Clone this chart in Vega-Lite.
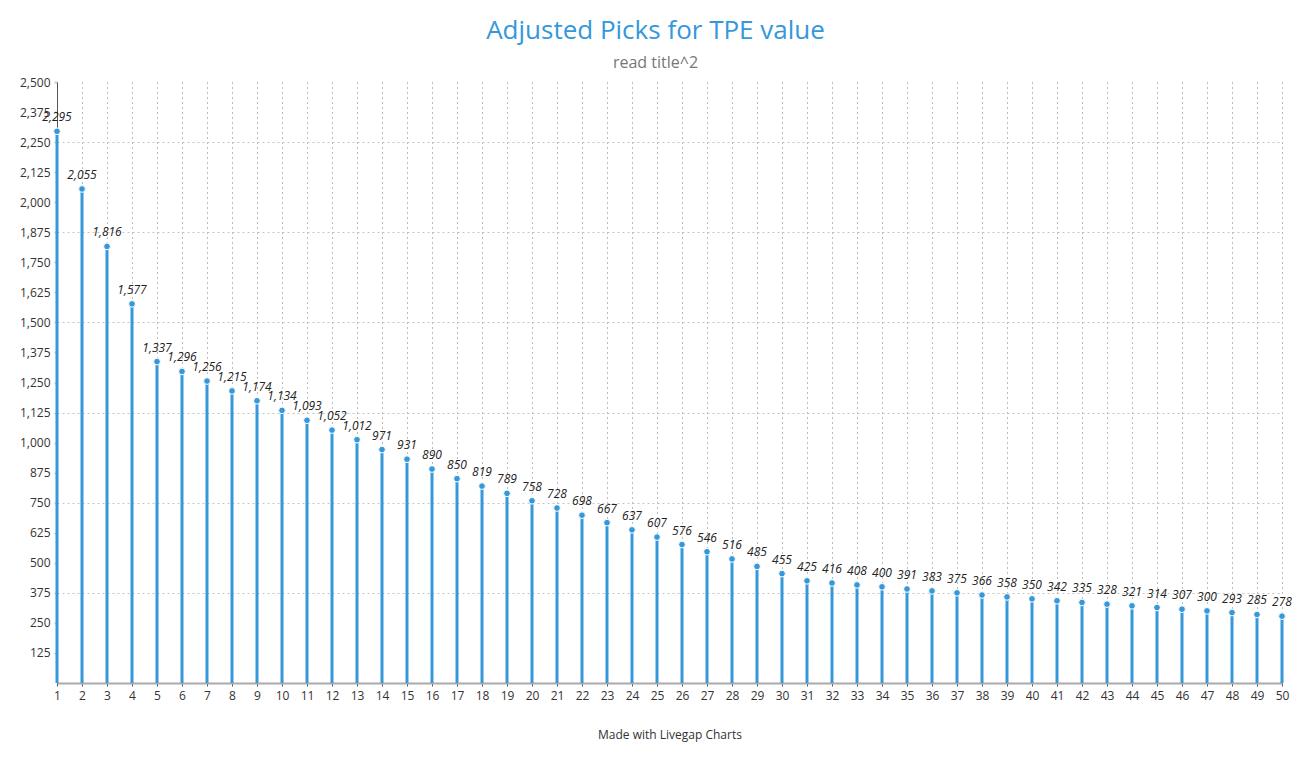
{
  "$schema": "https://vega.github.io/schema/vega-lite/v6.json",
  "width": 1225,
  "height": 601,
  "autosize": {"type": "none"},
  "padding": {"left": 57, "top": 82, "right": 28, "bottom": 77},
  "background": "white",
  "title": {
    "text": "Adjusted Picks for TPE value",
    "subtitle": "read title^2",
    "anchor": "middle",
    "dx": -14,
    "font": "Open Sans",
    "fontSize": 26,
    "fontWeight": "normal",
    "color": "#3498db",
    "subtitleFont": "Open Sans",
    "subtitleFontSize": 16,
    "subtitleColor": "#777777",
    "subtitlePadding": 11,
    "offset": 5
  },
  "config": {
    "view": {"stroke": null},
    "axis": {"labelFont": "Open Sans", "labelFontSize": 12, "labelColor": "#333333", "titleFont": "Open Sans", "titleFontSize": 12, "titleColor": "#333333", "titleFontWeight": "normal"}
  },
  "data": {
    "values": [
      {"pick": 1, "value": 2295}, {"pick": 2, "value": 2055}, {"pick": 3, "value": 1816}, {"pick": 4, "value": 1577}, {"pick": 5, "value": 1337},
      {"pick": 6, "value": 1296}, {"pick": 7, "value": 1256}, {"pick": 8, "value": 1215}, {"pick": 9, "value": 1174}, {"pick": 10, "value": 1134},
      {"pick": 11, "value": 1093}, {"pick": 12, "value": 1052}, {"pick": 13, "value": 1012}, {"pick": 14, "value": 971}, {"pick": 15, "value": 931},
      {"pick": 16, "value": 890}, {"pick": 17, "value": 850}, {"pick": 18, "value": 819}, {"pick": 19, "value": 789}, {"pick": 20, "value": 758},
      {"pick": 21, "value": 728}, {"pick": 22, "value": 698}, {"pick": 23, "value": 667}, {"pick": 24, "value": 637}, {"pick": 25, "value": 607},
      {"pick": 26, "value": 576}, {"pick": 27, "value": 546}, {"pick": 28, "value": 516}, {"pick": 29, "value": 485}, {"pick": 30, "value": 455},
      {"pick": 31, "value": 425}, {"pick": 32, "value": 416}, {"pick": 33, "value": 408}, {"pick": 34, "value": 400}, {"pick": 35, "value": 391},
      {"pick": 36, "value": 383}, {"pick": 37, "value": 375}, {"pick": 38, "value": 366}, {"pick": 39, "value": 358}, {"pick": 40, "value": 350},
      {"pick": 41, "value": 342}, {"pick": 42, "value": 335}, {"pick": 43, "value": 328}, {"pick": 44, "value": 321}, {"pick": 45, "value": 314},
      {"pick": 46, "value": 307}, {"pick": 47, "value": 300}, {"pick": 48, "value": 293}, {"pick": 49, "value": 285}, {"pick": 50, "value": 278}
    ]
  },
  "encoding": {
    "x": {
      "field": "pick",
      "type": "ordinal",
      "scale": {"type": "point", "padding": 0},
      "axis": {
        "labelAngle": 0,
        "title": "Made with Livegap Charts",
        "titlePadding": 28,
        "domainColor": "#aaaaaa",
        "domainWidth": 2,
        "tickColor": "#555555",
        "tickSize": 3,
        "labelPadding": 4,
        "grid": true,
        "gridColor": "#777777",
        "gridDash": [1, 4],
        "gridWidth": 1
      }
    }
  },
  "resolve": {"axis": {"y": "independent"}},
  "layer": [
    {
      "mark": {"type": "rule", "color": "#3498db", "strokeWidth": 3},
      "encoding": {
        "y": {
          "field": "value",
          "type": "quantitative",
          "scale": {"domain": [0, 2500], "nice": false},
          "axis": {
            "orient": "left",
            "values": [375, 750, 1125, 1500, 1875, 2250],
            "title": null,
            "labels": false,
            "ticks": false,
            "domain": false,
            "grid": true,
            "gridDash": [2, 3],
            "gridWidth": 1,
            "gridColor": "#c4c4c4"
          }
        },
        "y2": {"datum": 0}
      }
    },
    {
      "mark": {"type": "point", "filled": true, "color": "#3498db", "size": 45, "opacity": 1, "stroke": "#ffffff", "strokeWidth": 1},
      "encoding": {
        "y": {
          "field": "value",
          "type": "quantitative",
          "scale": {"domain": [0, 2500], "nice": false},
          "axis": {
            "orient": "left",
            "values": [125, 250, 375, 500, 625, 750, 875, 1000, 1125, 1250, 1375, 1500, 1625, 1750, 1875, 2000, 2125, 2250, 2375, 2500],
            "format": ",d",
            "title": null,
            "domainColor": "#555555",
            "domainWidth": 1,
            "tickColor": "#cccccc",
            "tickSize": 3,
            "tickWidth": 2,
            "labelPadding": 4,
            "grid": false
          }
        }
      }
    },
    {
      "mark": {"type": "text", "font": "Open Sans", "fontSize": 12, "fontStyle": "italic", "color": "#222222", "baseline": "bottom", "dy": -7},
      "encoding": {
        "y": {"field": "value", "type": "quantitative", "scale": {"domain": [0, 2500], "nice": false}, "axis": null},
        "text": {"field": "value", "type": "quantitative", "format": ","}
      }
    }
  ]
}
